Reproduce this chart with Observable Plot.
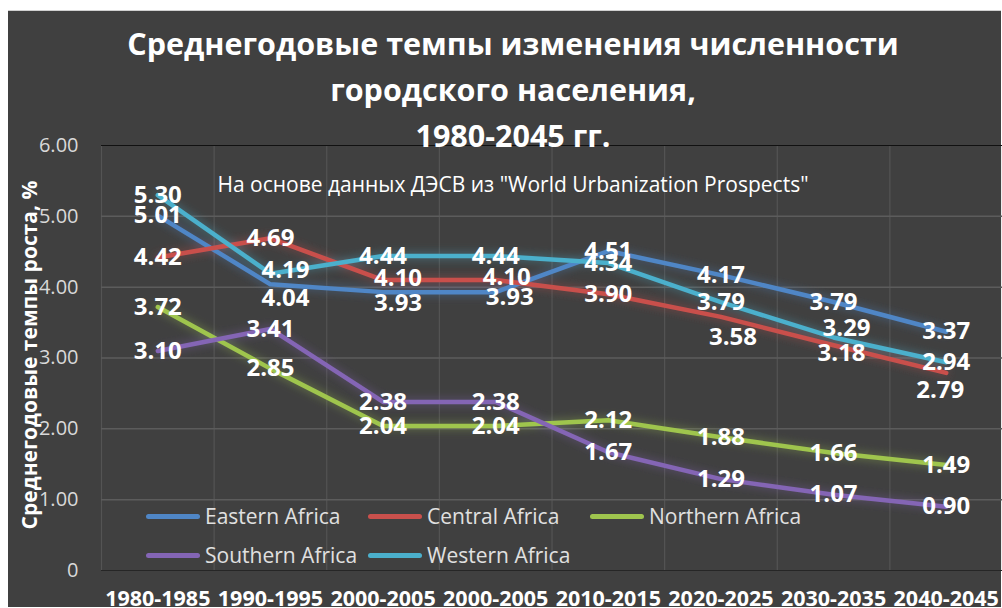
<!DOCTYPE html>
<html>
<head>
<meta charset="utf-8">
<script src="https://cdn.jsdelivr.net/npm/d3@7"></script>
<script src="https://cdn.jsdelivr.net/npm/@observablehq/plot@0.6"></script>
<style>
  html, body { margin: 0; padding: 0; background: #ffffff; }
  #wrap { position: relative; width: 1002px; height: 608px; overflow: hidden; font-family: "Open Sans", sans-serif; }
  #panel { position: absolute; left: 8px; top: 10px; width: 993px; height: 596px; background: #404040; border-top: 1px solid #d0d0d0; }
  #chart { position: absolute; left: 0; top: 0; }
  .title { position: absolute; left: 0; width: 1026px; text-align: center; color: #ffffff; font-weight: 700; font-size: 30.5px; line-height: 46px; white-space: nowrap; }
  .subtitle { position: absolute; left: 0; width: 1026px; text-align: center; color: #ffffff; font-size: 21px; white-space: nowrap; }
  .leg { position: absolute; color: #e0e0e0; font-size: 21px; white-space: nowrap; display: flex; align-items: center; }
  .sw { display: inline-block; width: 54px; height: 5px; border-radius: 3px; margin-right: 5px; }
</style>
</head>
<body>
<div id="wrap">
  <div id="panel"></div>
  <div id="chart"></div>
</div>
<script>
const categories = ["1980-1985", "1990-1995", "2000-2005", "2000-2005", "2010-2015", "2020-2025", "2030-2035", "2040-2045"];
const regions = ["Eastern Africa", "Central Africa", "Northern Africa", "Southern Africa", "Western Africa"];
const easternAfrica  = [5.01, 4.04, 3.93, 3.93, 4.51, 4.17, 3.79, 3.37];
const centralAfrica  = [4.42, 4.69, 4.10, 4.10, 3.90, 3.58, 3.18, 2.79];
const northernAfrica = [3.72, 2.85, 2.04, 2.04, 2.12, 1.88, 1.66, 1.49];
const southernAfrica = [3.10, 3.41, 2.38, 2.38, 1.67, 1.29, 1.07, 0.90];
const westernAfrica  = [5.30, 4.19, 4.44, 4.44, 4.34, 3.79, 3.29, 2.94];
const yTicks = [0, 1, 2, 3, 4, 5, 6];
const colors = ["#4f86c6", "#c9504c", "#9fc54e", "#8465b5", "#4bb0cc"];
const titleLines = ["Среднегодовые темпы изменения численности", "городского населения,", "1980-2045 гг."];
const subtitle = "На основе данных ДЭСВ из \"World Urbanization Prospects\"";
const yTitle = "Среднегодовые темпы роста, %";
// label placement nudges (pixels), as in the original chart's manually moved data labels
const labelNudges = [
  {region: "Eastern Africa", i: 1, dx: 15, dy: 14},
  {region: "Eastern Africa", i: 2, dx: 15, dy: 11},
  {region: "Eastern Africa", i: 3, dx: 14, dy: 5},
  {region: "Central Africa", i: 2, dx: 15, dy: -2},
  {region: "Central Africa", i: 3, dx: 11, dy: -3},
  {region: "Central Africa", i: 5, dx: 12, dy: 20},
  {region: "Central Africa", i: 6, dx: 8, dy: 8},
  {region: "Central Africa", i: 7, dx: -6, dy: 17},
  {region: "Western Africa", i: 1, dx: 15, dy: -3},
  {region: "Western Africa", i: 6, dx: 13, dy: -9}
];

const seriesValues = [easternAfrica, centralAfrica, northernAfrica, southernAfrica, westernAfrica];
const data = [];
regions.forEach((r, k) => seriesValues[k].forEach((v, i) => data.push({region: r, i, value: v})));

const nudgeOf = d => labelNudges.find(n => n.region === d.region && n.i === d.i);
const labelStyle = {x: "i", y: "value", text: d => d.value.toFixed(2), fill: "#ffffff", fontSize: 24, fontWeight: "bold", lineAnchor: "middle"};
const labelMarks = regions.map(r => Plot.text(data.filter(d => d.region === r && !nudgeOf(d)), labelStyle));
labelNudges.forEach(n => {
  const d = data.find(e => e.region === n.region && e.i === n.i);
  labelMarks.push(Plot.text([d], {...labelStyle, dx: n.dx, dy: n.dy}));
});

const chart = Plot.plot({
  width: 1002,
  height: 608,
  marginLeft: 101,
  marginRight: 0,
  marginTop: 145,
  marginBottom: 38,
  style: {background: "transparent", color: "#d9d9d9", fontFamily: "Open Sans, sans-serif"},
  x: {domain: [-0.5, 7.5], axis: null},
  y: {domain: [0, 6], axis: null},
  color: {domain: regions, range: colors},
  marks: [
    Plot.ruleX(d3.range(-0.5, 8, 1), {stroke: "#545454", strokeWidth: 1.2}),
    Plot.ruleY([1, 2, 3, 4, 5], {stroke: "#5c5c5c", strokeWidth: 1.5}),
    Plot.ruleY([0], {stroke: "#262626", strokeWidth: 1.2}),
    Plot.ruleY([6], {stroke: "#111111", strokeWidth: 1.2}),
    Plot.axisY({ticks: yTicks, tickFormat: d => d === 0 ? "0" : d.toFixed(2), tickSize: 0, tickPadding: 23, fontSize: 20, label: null, fill: "#d9d9d9"}),
    Plot.axisX({ticks: d3.range(categories.length), tickFormat: i => categories[i], tickSize: 0, tickPadding: 20, fontSize: 21.5, fontWeight: "bold", label: null, fill: "#ffffff"}),
    Plot.text([yTitle], {frameAnchor: "left", dx: -71, dy: -3, rotate: -90, fontSize: 21, fontWeight: "bold", fill: "#ffffff", textAnchor: "middle", lineAnchor: "middle"}),
    Plot.line(data, {x: "i", y: "value", z: "region", stroke: "region", strokeWidth: 4.5, strokeLinejoin: "round", strokeLinecap: "round"}),
    ...labelMarks
  ]
});

// glow filter for the series lines
const svg = d3.select(chart);
const defs = svg.insert("defs", ":first-child");
const f = defs.append("filter").attr("id", "glow").attr("filterUnits", "userSpaceOnUse")
  .attr("x", 0).attr("y", 0).attr("width", 1002).attr("height", 608);
f.append("feGaussianBlur").attr("in", "SourceGraphic").attr("stdDeviation", 5).attr("result", "blur");
f.append("feComponentTransfer").attr("in", "blur").attr("result", "soft")
  .append("feFuncA").attr("type", "linear").attr("slope", 0.55);
const m = f.append("feMerge");
m.append("feMergeNode").attr("in", "soft");
m.append("feMergeNode").attr("in", "SourceGraphic");
svg.selectAll('g[aria-label="line"]').attr("filter", "url(#glow)");

document.getElementById("chart").appendChild(chart);

const wrap = document.getElementById("wrap");
const titleTops = [20, 66, 112];
titleLines.forEach((t, k) => {
  const d = document.createElement("div");
  d.className = "title";
  d.style.top = titleTops[k] + "px";
  d.textContent = t;
  wrap.appendChild(d);
});
const sub = document.createElement("div");
sub.className = "subtitle";
sub.style.top = "170px";
sub.textContent = subtitle;
wrap.appendChild(sub);

const legendPos = [[146, 516], [368, 516], [590, 516], [146, 555], [368, 555]];
regions.forEach((r, k) => {
  const d = document.createElement("div");
  d.className = "leg";
  d.style.left = legendPos[k][0] + "px";
  d.style.top = (legendPos[k][1] - 15) + "px";
  d.style.height = "30px";
  const s = document.createElement("span");
  s.className = "sw";
  s.style.background = colors[k];
  d.appendChild(s);
  d.appendChild(document.createTextNode(r));
  wrap.appendChild(d);
});
</script>
</body>
</html>
